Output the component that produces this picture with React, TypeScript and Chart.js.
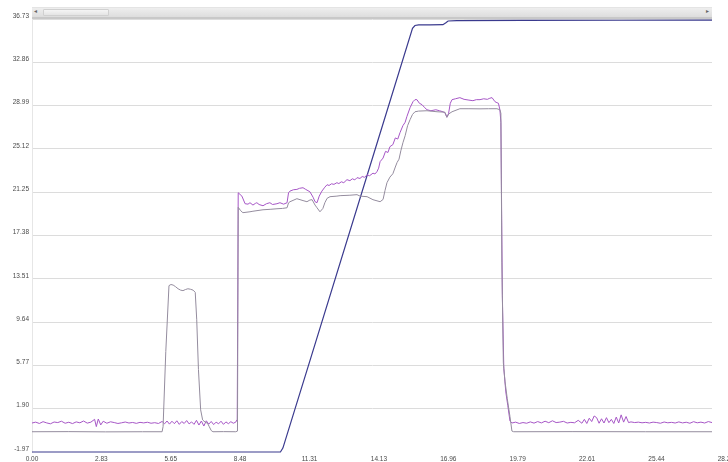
import React, { useEffect, useRef } from "react";
import { Chart, registerables } from "chart.js";

Chart.register(...registerables);

// ---- axis ticks ----
const xTickValues = [0, 2.8265, 5.653, 8.4795, 11.306, 14.1325, 16.959, 19.7855, 22.612, 25.4385, 28.265];
const xTickLabels = ["0.00", "2.83", "5.65", "8.48", "11.31", "14.13", "16.96", "19.79", "22.61", "25.44", "28.27"];
const yTickValues = [-1.97, 1.9, 5.77, 9.64, 13.51, 17.38, 21.25, 25.12, 28.99, 32.86, 36.73];
const yTickLabels = ["-1.97", "1.90", "5.77", "9.64", "13.51", "17.38", "21.25", "25.12", "28.99", "32.86", "36.73"];
const xMin = 0;
const xMax = 27.7;
const yMin = -1.97;
const yMax = 36.73;

// ---- series (x, value) ----
const purpleTrace: [number, number][] = [
  [0.0, 0.62], [0.15, 0.7], [0.3, 0.58], [0.45, 0.74], [0.6, 0.63], [0.75, 0.55], [0.9, 0.71], [1.05, 0.66],
  [1.2, 0.78], [1.35, 0.6], [1.5, 0.69], [1.65, 0.57], [1.8, 0.72], [1.95, 0.64], [2.1, 0.8], [2.25, 0.61],
  [2.4, 0.7], [2.55, 0.95], [2.62, 0.3], [2.7, 0.98], [2.8, 0.45], [2.9, 0.78], [3.05, 0.6], [3.2, 0.73],
  [3.35, 0.66], [3.5, 0.58], [3.65, 0.64], [3.8, 0.71], [3.95, 0.62], [4.1, 0.67], [4.25, 0.59], [4.4, 0.68],
  [4.55, 0.63], [4.7, 0.69], [4.85, 0.6], [5.0, 0.65], [5.15, 0.58], [5.3, 0.76], [5.4, 0.55], [5.5, 0.8],
  [5.6, 0.52], [5.7, 0.78], [5.8, 0.56], [5.9, 0.82], [6.0, 0.5], [6.1, 0.75], [6.2, 0.58], [6.3, 0.84],
  [6.4, 0.54], [6.5, 0.72], [6.6, 0.5], [6.7, 0.86], [6.8, 0.44], [6.9, 0.8], [7.0, 0.35], [7.1, 0.82],
  [7.2, 0.52], [7.3, 0.76], [7.4, 0.48], [7.5, 0.7], [7.6, 0.55], [7.7, 0.78], [7.8, 0.5], [7.9, 0.72],
  [8.0, 0.56], [8.1, 0.74], [8.2, 0.6], [8.3, 0.7], [8.36, 0.95],
  [8.4, 21.2], [8.55, 20.9], [8.68, 20.22], [8.8, 20.18], [8.88, 20.31], [9.0, 20.1], [9.1, 20.25],
  [9.16, 20.31], [9.25, 20.15], [9.41, 20.04], [9.55, 20.22], [9.69, 20.31], [9.8, 20.15], [9.98, 20.22],
  [10.1, 20.31], [10.25, 20.18], [10.39, 20.31], [10.45, 21.2], [10.51, 21.35], [10.65, 21.47], [10.79, 21.5],
  [10.9, 21.6], [11.04, 21.65], [11.15, 21.5], [11.32, 21.29], [11.45, 20.8], [11.53, 20.4], [11.61, 20.31],
  [11.7, 20.9], [11.81, 21.35], [11.93, 21.7], [12.02, 21.92], [12.1, 21.85], [12.2, 22.0], [12.3, 21.95],
  [12.42, 22.1], [12.5, 22.02], [12.6, 22.18], [12.7, 22.1], [12.83, 22.37], [12.95, 22.28], [13.05, 22.45],
  [13.15, 22.35], [13.24, 22.55], [13.36, 22.48], [13.45, 22.65], [13.55, 22.58], [13.65, 22.81], [13.75, 22.72],
  [13.89, 22.95], [13.97, 22.88], [14.05, 23.08], [14.12, 23.4], [14.18, 23.98], [14.3, 24.3], [14.4, 24.9],
  [14.5, 24.8], [14.58, 25.32], [14.7, 25.5], [14.8, 26.1], [14.9, 26.0], [14.99, 26.57], [15.11, 27.2],
  [15.2, 27.5], [15.27, 28.0], [15.4, 28.8], [15.52, 29.34], [15.6, 29.52], [15.68, 29.52], [15.78, 29.2],
  [15.89, 29.07], [16.0, 28.8], [16.09, 28.62], [16.25, 28.53], [16.45, 28.62], [16.6, 28.53], [16.74, 28.44],
  [16.82, 28.35], [16.9, 27.95], [16.97, 28.3], [17.04, 29.2], [17.11, 29.52], [17.25, 29.6], [17.43, 29.7],
  [17.6, 29.55], [17.8, 29.48], [17.96, 29.43], [18.1, 29.52], [18.25, 29.52], [18.4, 29.6], [18.55, 29.55],
  [18.65, 29.65], [18.74, 29.7], [18.86, 29.34], [18.94, 29.25], [19.0, 29.2], [19.06, 28.62],
  [19.1, 27.5], [19.16, 12.0], [19.22, 5.5], [19.3, 3.4], [19.38, 2.2], [19.47, 0.8],
  [19.55, 0.62], [19.7, 0.7], [19.85, 0.58], [20.0, 0.66], [20.15, 0.6], [20.3, 0.72], [20.45, 0.61],
  [20.6, 0.75], [20.75, 0.63], [20.9, 0.78], [21.05, 0.65], [21.2, 0.82], [21.35, 0.66], [21.5, 0.7],
  [21.65, 0.77], [21.8, 0.62], [21.95, 0.68], [22.1, 0.64], [22.25, 0.86], [22.4, 0.6], [22.5, 0.95],
  [22.6, 0.58], [22.7, 1.05], [22.8, 0.75], [22.9, 1.25], [23.0, 1.1], [23.1, 0.6], [23.2, 1.0], [23.3, 0.62],
  [23.4, 1.1], [23.5, 0.65], [23.6, 0.95], [23.7, 0.58], [23.8, 1.15], [23.9, 0.62], [24.0, 1.35], [24.1, 0.7],
  [24.2, 1.2], [24.3, 0.66], [24.4, 0.72], [24.55, 0.66], [24.7, 0.7], [24.85, 0.64], [25.0, 0.68],
  [25.15, 0.62], [25.3, 0.7], [25.45, 0.66], [25.6, 0.6], [25.75, 0.71], [25.9, 0.64], [26.05, 0.68],
  [26.2, 0.62], [26.35, 0.72], [26.5, 0.63], [26.65, 0.69], [26.8, 0.6], [26.95, 0.74], [27.1, 0.64],
  [27.25, 0.7], [27.4, 0.62], [27.55, 0.75], [27.7, 0.66],
];

const greyTrace: [number, number][] = [
  [0.0, -0.16], [1.5, -0.15], [3.0, -0.17], [4.5, -0.16], [5.3, -0.16], [5.34, 0.3], [5.45, 7.0], [5.58, 12.9],
  [5.66, 13.0], [5.75, 12.95], [5.85, 12.8], [5.95, 12.62], [6.05, 12.5], [6.15, 12.45], [6.25, 12.55],
  [6.35, 12.62], [6.45, 12.58], [6.56, 12.5], [6.65, 12.3], [6.71, 9.85], [6.78, 5.4], [6.87, 1.8],
  [6.95, 0.9], [7.05, 0.7], [7.15, 0.6], [7.22, 0.3], [7.3, -0.05], [7.37, -0.16], [7.8, -0.15], [8.3, -0.16],
  [8.37, -0.1], [8.4, 19.9], [8.5, 19.6], [8.59, 19.42], [8.88, 19.5], [9.0, 19.55], [9.41, 19.68],
  [9.7, 19.72], [9.98, 19.77], [10.2, 19.8], [10.39, 19.86], [10.45, 20.3], [10.51, 20.4], [10.79, 20.67],
  [11.04, 20.5], [11.2, 20.4], [11.32, 20.55], [11.41, 20.58], [11.53, 20.1], [11.61, 19.86], [11.73, 19.5],
  [11.85, 19.8], [11.93, 20.31], [12.02, 20.7], [12.14, 20.85], [12.42, 20.9], [12.55, 20.94], [12.95, 20.98],
  [13.24, 21.03], [13.36, 20.9], [13.65, 20.85], [13.89, 20.58], [14.18, 20.4], [14.3, 20.6], [14.38, 21.4],
  [14.46, 22.1], [14.58, 22.6], [14.7, 22.9], [14.8, 23.5], [14.87, 23.9], [14.95, 24.2], [15.03, 25.0],
  [15.11, 25.67], [15.2, 26.3], [15.3, 27.2], [15.4, 27.73], [15.5, 28.2], [15.6, 28.44], [15.75, 28.5],
  [16.09, 28.53], [16.5, 28.44], [16.82, 28.4], [16.9, 27.95], [16.98, 28.25], [17.11, 28.44], [17.43, 28.71],
  [17.8, 28.71], [18.25, 28.7], [18.6, 28.71], [18.94, 28.71], [19.06, 28.62], [19.1, 28.3], [19.14, 15.0],
  [19.2, 6.0], [19.27, 4.3], [19.36, 2.8], [19.47, 1.2], [19.55, -0.1], [19.62, -0.16], [22.0, -0.15],
  [25.0, -0.16], [27.7, -0.16],
];

const blueTrace: [number, number][] = [
  [0.0, -1.97], [10.12, -1.97], [10.22, -1.62], [11.31, 6.11], [14.13, 26.16], [15.5, 35.9], [15.6, 36.15],
  [15.75, 36.2], [16.2, 36.2], [16.74, 36.22], [16.86, 36.4], [16.95, 36.55], [17.3, 36.58], [20.0, 36.6],
  [24.0, 36.62], [27.7, 36.63],
];

const tickFont = { family: "'Liberation Sans', Arial, sans-serif", size: 6.5 };

export default function App() {
  const canvasRef = useRef<HTMLCanvasElement | null>(null);

  useEffect(() => {
    const canvas = canvasRef.current;
    if (!canvas) return;
    const toPts = (arr: [number, number][]) => arr.map(([x, y]) => ({ x, y }));
    const chart = new Chart(canvas, {
      type: "line",
      data: {
        datasets: [
          { data: toPts(greyTrace), borderColor: "#948c9e", borderWidth: 1, pointRadius: 0, clip: false },
          { data: toPts(purpleTrace), borderColor: "#a656c6", borderWidth: 1, pointRadius: 0, clip: false },
          { data: toPts(blueTrace), borderColor: "#3a3a8e", borderWidth: 1.2, pointRadius: 0, clip: false },
        ],
      },
      options: {
        animation: false,
        responsive: false,
        maintainAspectRatio: false,
        layout: { padding: { left: 0, right: 16, top: 19, bottom: 0 } },
        plugins: { legend: { display: false }, tooltip: { enabled: false } },
        elements: { line: { tension: 0 }, point: { radius: 0 } },
        scales: {
          x: {
            type: "linear",
            min: xMin,
            max: xMax,
            grid: { display: false, drawTicks: false },
            border: { display: false },
            afterBuildTicks: (s: any) => {
              s.ticks = xTickValues.map((v) => ({ value: v }));
            },
            afterFit: (s: any) => {
              s.height = 10;
              s.paddingLeft = 0;
              s.paddingRight = 0;
            },
            ticks: {
              autoSkip: false,
              maxRotation: 0,
              padding: 3,
              color: "#4a4a4a",
              font: tickFont,
              callback: (_v: any, i: number) => xTickLabels[i],
            },
          },
          y: {
            type: "linear",
            min: yMin,
            max: yMax,
            afterBuildTicks: (s: any) => {
              s.ticks = yTickValues.map((v) => ({ value: v }));
            },
            afterFit: (s: any) => {
              s.width = 32;
              s.paddingTop = 0;
              s.paddingBottom = 0;
            },
            grid: {
              drawTicks: false,
              lineWidth: 1,
              color: (ctx: any) => (ctx.index === 0 ? "rgba(0,0,0,0)" : "#dcdcdc"),
            },
            border: { display: true, color: "#e6e6e6" },
            ticks: {
              autoSkip: false,
              padding: 3,
              labelOffset: -3,
              color: "#4a4a4a",
              font: tickFont,
              callback: (_v: any, i: number) => yTickLabels[i],
            },
          },
        },
      },
    } as any);
    return () => chart.destroy();
  }, []);

  return (
    <div style={{ position: "fixed", left: 0, top: 0, width: 728, height: 462, overflow: "hidden", background: "#fff" }}>
      <canvas ref={canvasRef} width={728} height={462} style={{ display: "block" }} />
      <div
        style={{
          position: "absolute", left: 32, top: 7, width: 680, height: 12, boxSizing: "border-box",
          background: "linear-gradient(#eeeeee, #dddddd)", borderBottom: "2px solid #c8c8c8",
          borderTop: "1px solid #e4e4e4",
        }}
      >
        <div
          style={{
            position: "absolute", left: 11, top: 1, width: 66, height: 7, boxSizing: "border-box",
            background: "linear-gradient(#f5f5f5, #e4e4e4)", border: "1px solid #d0d0d0", borderRadius: 1,
          }}
        />
        <span style={{ position: "absolute", left: 2, top: -1, fontSize: 6, color: "#666", fontFamily: "'DejaVu Sans', sans-serif" }}>◂</span>
        <span style={{ position: "absolute", right: 3, top: -1, fontSize: 6, color: "#666", fontFamily: "'DejaVu Sans', sans-serif" }}>▸</span>
      </div>
    </div>
  );
}
